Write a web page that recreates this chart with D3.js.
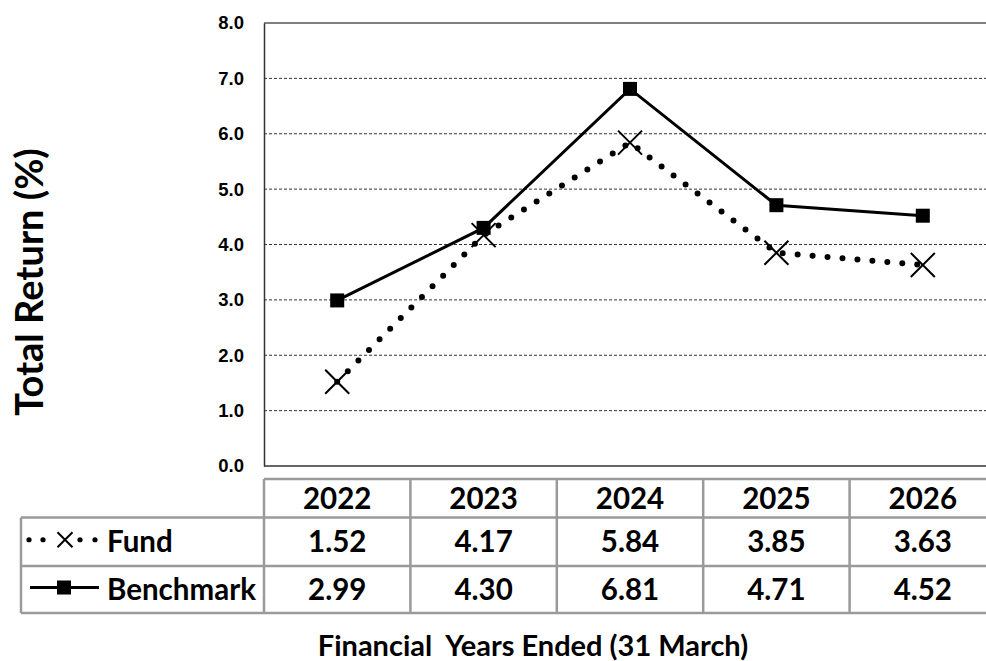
<!DOCTYPE html>
<html><head><meta charset="utf-8">
<script src="https://cdn.jsdelivr.net/npm/d3@7"></script>
<style>
html,body{margin:0;padding:0;background:#fff;}
svg{display:block;}
</style></head>
<body>
<svg id="chart" width="986" height="661"></svg>
<script>
const years = ["2022","2023","2024","2025","2026"];
const fund = [1.52, 4.17, 5.84, 3.85, 3.63];
const benchmark = [2.99, 4.30, 6.81, 4.71, 4.52];
const yTicks = [0,1,2,3,4,5,6,7,8];
const seriesNames = ["Fund","Benchmark"];
const yTitle = "Total Return (%)";
const xTitle = "Financial  Years Ended (31 March)";

(function(){
const svg = d3.select("#chart");
const W = 986, H = 661;
const pLeft = 264, pRight = 996, pTop = 23, pBottom = 466;
const x = d3.scaleBand().domain(years).range([pLeft, pRight]).padding(0);
const y = d3.scaleLinear().domain([0, 8]).range([pBottom, pTop]);
const cx = d => x(d) + x.bandwidth()/2;

// gridlines
svg.append("g").selectAll("line").data(yTicks.filter(t => t>0 && t<8)).join("line")
  .attr("x1", pLeft).attr("x2", W).attr("y1", d=>y(d)).attr("y2", d=>y(d))
  .attr("stroke", "#333").attr("stroke-width", 1).attr("stroke-dasharray", "3,2");
// top border
svg.append("line").attr("x1", pLeft).attr("x2", W).attr("y1", y(8)).attr("y2", y(8))
  .attr("stroke", "#555").attr("stroke-width", 1.5);
// axis
const yAxis = d3.axisLeft(y).tickValues(yTicks).tickFormat(d3.format(".1f")).tickSize(0).tickPadding(20);
const ga = svg.append("g").attr("transform", `translate(${pLeft},0)`).call(yAxis);
ga.select(".domain").attr("stroke", "#333").attr("stroke-width", 1.5);
ga.selectAll("text").attr("font-family", "Liberation Sans, Arial, sans-serif")
  .attr("font-weight", "bold").attr("font-size", 18.5).attr("fill", "#000");
svg.append("line").attr("x1", pLeft).attr("x2", W).attr("y1", pBottom).attr("y2", pBottom)
  .attr("stroke", "#333").attr("stroke-width", 1.5);

// y title
svg.append("text").attr("transform", `translate(43,${282}) rotate(-90)`)
  .attr("text-anchor", "middle").attr("font-family", "Lato, sans-serif").attr("font-weight", 700)
  .attr("font-size", 38).attr("fill", "#000").text(yTitle);

// lines
const line = d3.line().x((d,i)=>cx(years[i])).y(d=>y(d));
svg.append("path").datum(benchmark).attr("d", line).attr("fill","none")
  .attr("stroke","#000").attr("stroke-width",3);
svg.append("path").datum(fund).attr("d", line).attr("fill","none")
  .attr("stroke","#000").attr("stroke-width",6).attr("stroke-linecap","round").attr("stroke-dasharray","0,15");

// markers
svg.append("g").selectAll("rect").data(benchmark).join("rect")
  .attr("x",(d,i)=>cx(years[i])-7).attr("y",d=>y(d)-7).attr("width",14).attr("height",14).attr("fill","#000");
const xm = 12;
svg.append("g").selectAll("path").data(fund).join("path")
  .attr("d",(d,i)=>{const a=cx(years[i]), b=y(d); return `M${a-xm},${b-xm}L${a+xm},${b+xm}M${a-xm},${b+xm}L${a+xm},${b-xm}`;})
  .attr("stroke","#000").attr("stroke-width",2).attr("fill","none");

// table
const tb = {hTop:479, r1:517.5, r2:566, bot:613, lab:21};
const tg = svg.append("g");
const gridColor = "#9a9a9a";
tg.append("line").attr("x1",pLeft).attr("x2",W).attr("y1",tb.hTop).attr("y2",tb.hTop);
[tb.r1, tb.r2, tb.bot].forEach(v => tg.append("line").attr("x1",tb.lab).attr("x2",W).attr("y1",v).attr("y2",v));
tg.append("line").attr("x1",tb.lab).attr("x2",tb.lab).attr("y1",tb.r1).attr("y2",tb.bot);
years.forEach(yr => tg.append("line").attr("x1",x(yr)).attr("x2",x(yr)).attr("y1",tb.hTop).attr("y2",tb.bot));
tg.selectAll("line").attr("stroke",gridColor).attr("stroke-width",2.5);

const tf = {family:"Lato, sans-serif", size:29.5};
function ttext(xp, yp, s, anchor){
  return svg.append("text").attr("x",xp).attr("y",yp).attr("dy","0.35em")
    .attr("text-anchor",anchor||"middle").attr("font-family",tf.family).attr("font-weight",700)
    .attr("font-size",tf.size).attr("fill","#000").text(s);
}
const rowC = [(tb.hTop+tb.r1)/2, (tb.r1+tb.r2)/2, (tb.r2+tb.bot)/2];
years.forEach((yr,i)=>{
  ttext(cx(yr), rowC[0], yr);
  ttext(cx(yr), rowC[1], fund[i].toFixed(2));
  ttext(cx(yr), rowC[2], benchmark[i].toFixed(2));
});
ttext(107, rowC[1], seriesNames[0], "start");
ttext(107, rowC[2], seriesNames[1], "start");

// legend symbols
const lg = svg.append("g");
const ly = rowC[1] - 2;
lg.selectAll("circle").data([29, 43, 80, 95]).join("circle")
  .attr("cx", d=>d).attr("cy", ly).attr("r", 2.6).attr("fill", "#000");
const lx=65, ls=7.5;
lg.append("path").attr("d",`M${lx-ls},${ly-ls}L${lx+ls},${ly+ls}M${lx-ls},${ly+ls}L${lx+ls},${ly-ls}`)
  .attr("stroke","#000").attr("stroke-width",2).attr("fill","none");
lg.append("line").attr("x1",30).attr("x2",99).attr("y1",rowC[2]-2).attr("y2",rowC[2]-2).attr("stroke","#000").attr("stroke-width",3);
lg.append("rect").attr("x",57).attr("y",rowC[2]-9).attr("width",14).attr("height",14).attr("fill","#000");

// x title
svg.append("text").attr("x",533).attr("y",656).attr("text-anchor","middle")
  .attr("font-family",tf.family).attr("font-weight",700).attr("font-size",29).attr("fill","#000")
  .style("white-space","pre").text(xTitle);
})();
</script>
</body></html>
